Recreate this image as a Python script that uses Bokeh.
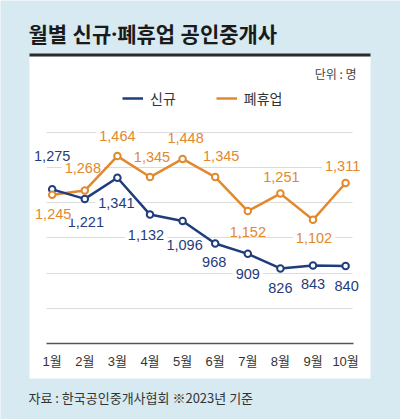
from bokeh.plotting import figure
from bokeh.models import (ColumnDataSource, FixedTicker, BoxAnnotation, Label,
                          Legend, LegendItem)
from bokeh.embed import file_html
from bokeh.resources import INLINE
from bokeh.core.properties import value

# ---------------- data ----------------
months = [1, 2, 3, 4, 5, 6, 7, 8, 9, 10]
month_labels = ["1월", "2월", "3월", "4월", "5월", "6월", "7월", "8월", "9월", "10월"]
new_agents = [1275, 1221, 1341, 1132, 1096, 968, 909, 826, 843, 840]        # 신규
closed_agents = [1245, 1268, 1464, 1345, 1448, 1345, 1152, 1251, 1102, 1311]  # 폐휴업
grid_values = [600, 800, 1000, 1200, 1400, 1600]

# value-label placement (pixel offsets from each point)
new_label_dx = [0, 1, -1, -4, 2, -1, 0, 0, 0, 1]
new_label_dy = [-33, 23, 25, 20, 24, 19, 20, 20, 19, 20]
closed_label_dx = [1, -2, 0, 2, 3, 6, 0, 1, 1, -3]
closed_label_dy = [19, -23, -20, -20, -21, -21, 21, -17, 18, -17]

# ---------------- style ----------------
BG = "#d7e9f1"
BLUE = "#1f3c7c"
ORANGE = "#e2882d"
KR = "Noto Sans CJK KR"
TITLE_FONT = "'Noto Sans', 'Noto Sans CJK KR'"
NUM = "'Liberation Sans', 'Noto Sans CJK KR'"
W, H = 400, 419

p = figure(width=W, height=H, x_range=(-0.5859, 11.684), y_range=(-31.4, 2347.2),
           output_backend="svg", toolbar_location=None, y_axis_location=None,
           title=None, min_border=0, background_fill_color=BG,
           border_fill_color=BG, outline_line_color=None)

# white panel and title rule (screen px, origin bottom-left)
panel = BoxAnnotation(left=29, right=370, top=H - 56, bottom=H - 378,
                      left_units="screen", right_units="screen",
                      top_units="screen", bottom_units="screen",
                      fill_color="white", fill_alpha=1, line_color=None, level="image")
rule = BoxAnnotation(left=29, right=370, top=H - 53, bottom=H - 56,
                     left_units="screen", right_units="screen",
                     top_units="screen", bottom_units="screen",
                     fill_color="#2b2b2b", fill_alpha=1, line_color=None, level="image")
p.add_layout(panel)
p.add_layout(rule)

# grid / axes
p.xgrid.visible = False
g = p.ygrid[0]
g.ticker = FixedTicker(ticks=grid_values)
g.grid_line_color = "#dcdcdc"
g.grid_line_width = 1
if "cross_bounds" in g.properties():
    g.cross_bounds = (0.825, 10.21)

ax = p.xaxis[0]
ax.fixed_location = 400
ax.bounds = (0.81, 10.24)
ax.ticker = FixedTicker(ticks=months)
ax.major_label_overrides = {m: t for m, t in zip(months, month_labels)}
ax.major_tick_line_color = None
ax.minor_tick_line_color = None
ax.major_tick_out = 0
ax.major_tick_in = 0
ax.axis_line_color = "#555555"
ax.axis_line_width = 1.5
ax.major_label_standoff = 10
ax.major_label_text_font = NUM
ax.major_label_text_font_size = "13px"
ax.major_label_text_color = "#333333"

# value labels (drawn first so their white boxes only mask the grid)
src_new = ColumnDataSource(dict(x=months, y=new_agents,
                                text=[f"{v:,}" for v in new_agents],
                                dx=new_label_dx, dy=new_label_dy))
src_closed = ColumnDataSource(dict(x=months, y=closed_agents,
                                   text=[f"{v:,}" for v in closed_agents],
                                   dx=closed_label_dx, dy=closed_label_dy))
for src, col in ((src_new, BLUE), (src_closed, ORANGE)):
    p.text(x="x", y="y", text="text", x_offset="dx", y_offset="dy", source=src,
           text_align="center", text_baseline="middle", text_font=value(NUM),
           text_font_size="14.5px", text_color=col,
           background_fill_color="white", border_line_color=None,
           padding=(3, 0))

# lines + markers
l_closed = p.line(months, closed_agents, line_color=ORANGE, line_width=2.5)
l_new = p.line(months, new_agents, line_color=BLUE, line_width=2.5)
p.scatter(months, new_agents, marker="circle", size=6.5, fill_color="white",
          line_color=BLUE, line_width=2)
p.scatter(months, closed_agents, marker="circle", size=6.5, fill_color="white",
          line_color=ORANGE, line_width=2)

# legend
legend = Legend(items=[LegendItem(label="신규", renderers=[l_new]),
                       LegendItem(label="폐휴업", renderers=[l_closed])],
                orientation="horizontal", location=(122, H - 108),
                glyph_width=21, glyph_height=14, label_height=14,
                label_standoff=7, spacing=40, padding=0, margin=0,
                border_line_color=None, background_fill_alpha=0,
                label_text_font=KR, label_text_font_size="14px",
                label_text_color="#333333")
p.add_layout(legend)

# texts
p.add_layout(Label(x=28, y=H - 33, x_units="screen", y_units="screen",
                   text="월별 신규·폐휴업 공인중개사", text_font=TITLE_FONT,
                   text_font_size="21px", text_font_style="bold",
                   text_baseline="middle", text_color="#1a1a1a"))
p.add_layout(Label(x=356, y=H - 73, x_units="screen", y_units="screen",
                   text="단위 : 명", text_font=KR, text_font_size="12px",
                   text_align="right", text_baseline="middle", text_color="#444444"))
p.add_layout(Label(x=28, y=H - 397, x_units="screen", y_units="screen",
                   text="자료 : 한국공인중개사협회 ※2023년 기준", text_font=KR,
                   text_font_size="13px", text_baseline="middle", text_color="#333333"))

open("out.html", "w").write(file_html(p, INLINE))
